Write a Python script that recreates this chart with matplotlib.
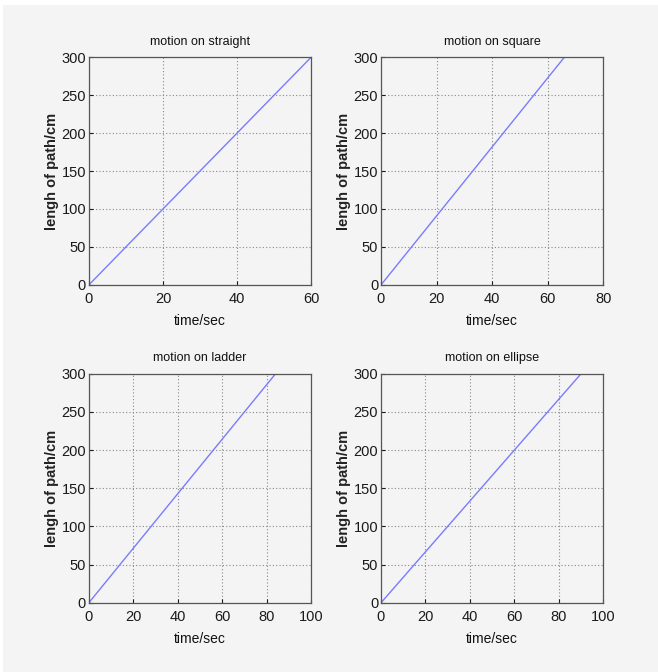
import matplotlib
matplotlib.use("Agg")
import matplotlib.pyplot as plt
from matplotlib.patches import Rectangle

plt.rcParams['font.family'] = ['Liberation Sans', 'DejaVu Sans']

# data: path length over time for each motion
titles = ["motion on straight", "motion on square", "motion on ladder", "motion on ellipse"]
straight_t = [0, 60]
straight_len = [0, 300]
square_t = [0, 66]
square_len = [0, 300]
ladder_t = [0, 84]
ladder_len = [0, 300]
ellipse_t = [0, 90]
ellipse_len = [0, 300]

x_max = [60, 80, 100, 100]
x_ticks = [[0, 20, 40, 60], [0, 20, 40, 60, 80], [0, 20, 40, 60, 80, 100], [0, 20, 40, 60, 80, 100]]
y_ticks = [0, 50, 100, 150, 200, 250, 300]

series = [(straight_t, straight_len), (square_t, square_len),
          (ladder_t, ladder_len), (ellipse_t, ellipse_len)]

bg = "#f4f4f4"
fig = plt.figure(figsize=(6.58, 6.72), dpi=100, facecolor="white")
# grey panel with a thin white margin at the top and left, like the screenshot
fig.patches.append(Rectangle((3 / 658, 0), 1, 1 - 5 / 672, transform=fig.transFigure,
                             facecolor=bg, edgecolor="none", zorder=-1))

# axes boxes [left, bottom, width, height]
boxes = [[0.135, 0.576, 0.338, 0.339],
         [0.579, 0.576, 0.338, 0.339],
         [0.135, 0.103, 0.338, 0.341],
         [0.579, 0.103, 0.338, 0.341]]

for i, (t, l) in enumerate(series):
    ax = fig.add_axes(boxes[i])
    ax.set_facecolor(bg)
    ax.plot(t, l, color="#7b7bff", linewidth=1)
    ax.set_xlim(0, x_max[i])
    ax.set_ylim(0, 300)
    ax.set_xticks(x_ticks[i])
    ax.set_yticks(y_ticks)
    ax.grid(True, linestyle=(0, (1, 2)), color="#888888", linewidth=0.8)
    ax.tick_params(direction="in", length=3, labelsize=10.5, colors="#1a1a1a", pad=2)
    ax.tick_params(axis="x", pad=5)
    for s in ax.spines.values():
        s.set_color("#555555")
        s.set_linewidth(0.9)
    ax.set_title(titles[i], fontsize=9, pad=9, color="#111111")
    ax.set_xlabel("time/sec", fontsize=10, labelpad=6, color="#111111")
    ax.set_ylabel("lengh of path/cm", fontsize=10.5, fontweight="bold", labelpad=2, color="#222222")

fig.savefig("out.png", dpi=100, facecolor=fig.get_facecolor())
